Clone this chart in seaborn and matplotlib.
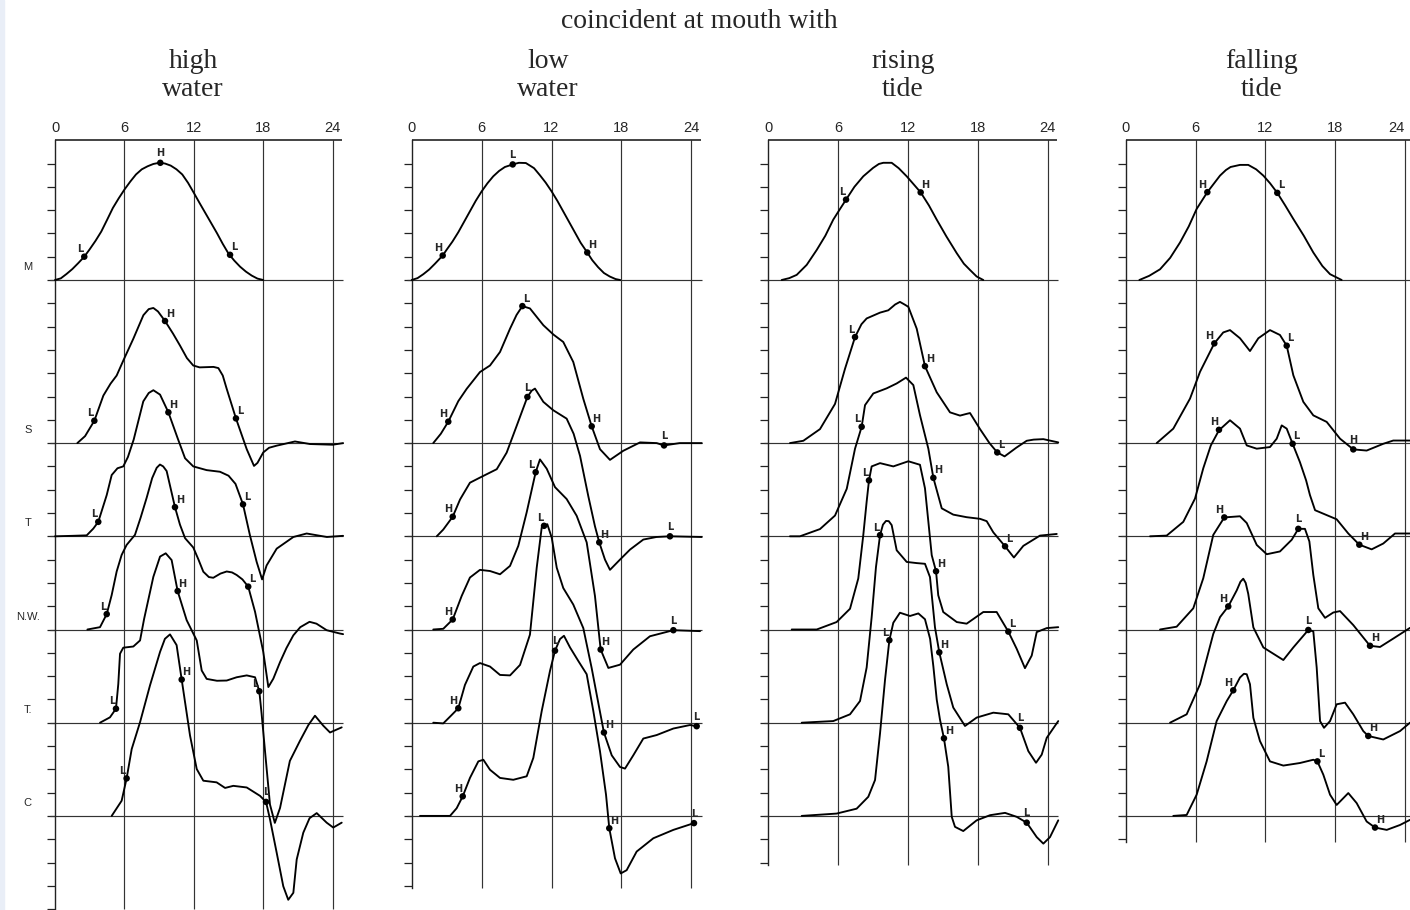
import numpy as np
import matplotlib
matplotlib.use("Agg")
import matplotlib.pyplot as plt
from matplotlib.patches import Rectangle
import seaborn as sns

# ---------------- text ----------------
SUPTITLE = "coincident at mouth with"
PANEL_TITLES = ["high\nwater", "low\nwater", "rising\ntide", "falling\ntide"]
ROW_NAMES = ["M", "S", "T", "N.W.", "T.", "C"]
X_TICKS = [0, 6, 12, 18, 24]

# ---------------- data: (hour, level above own baseline) ----------------
# panel 1 : high water
HW_M = [(0,0),(0.5,0.07),(1,0.26),(1.5,0.47),(2,0.72),(2.53,1.0),(3,1.32),(3.5,1.68),(4,2.08),(4.5,2.58),(5,3.09),(5.5,3.5),(6,3.88),(6.5,4.22),(7,4.53),(7.5,4.75),(8,4.88),(8.5,4.98),(9,5.03),(9.5,5.0),(10,4.91),(10.5,4.75),(11,4.53),(11.5,4.17),(12,3.74),(12.5,3.3),(13,2.87),(13.5,2.44),(14,2.01),(14.5,1.55),(15,1.13),(15.5,0.83),(16,0.57),(16.5,0.36),(17,0.19),(17.5,0.06),(18,0)]
HW_S = [(1.93,0),(2.6,0.3),(3.4,0.96),(4.18,2.04),(4.8,2.55),(5.33,2.9),(5.91,3.55),(6.77,4.48),(7.64,5.49),(8.1,5.75),(8.5,5.8),(8.9,5.65),(9.51,5.24),(10.2,4.7),(10.8,4.19),(11.4,3.65),(11.95,3.33),(12.5,3.25),(13.11,3.26),(13.7,3.27),(14.12,3.22),(14.5,2.9),(14.84,2.33),(15.64,1.06),(16.57,-0.26),(17.2,-0.98),(17.5,-0.85),(18.0,-0.4),(18.5,-0.2),(19.16,-0.11),(20.74,0.07),(22.04,-0.04),(24.0,-0.07),(24.9,0)]
HW_T = [(0,0),(1.5,0.02),(2.74,0.04),(3.31,0.33),(3.74,0.62),(4.47,1.77),(4.9,2.63),(5.4,2.92),(5.9,3.0),(6.3,3.4),(6.8,4.15),(7.63,5.79),(8.1,6.15),(8.5,6.27),(9.08,6.08),(9.8,5.32),(10.6,4.21),(11.24,3.35),(11.95,3.0),(13.11,2.84),(14.26,2.77),(15.0,2.6),(15.6,2.25),(16.25,1.37),(16.85,0.04),(17.43,-1.1),(17.9,-1.85),(18.29,-1.25),(19.16,-0.53),(20.6,-0.03),(21.75,0.12),(23.5,-0.03),(24.9,0.02)]
HW_NW = [(2.8,0),(3.89,0.1),(4.47,0.66),(4.9,1.48),(5.33,2.49),(5.76,3.2),(6.19,3.63),(6.91,4.06),(7.4,4.8),(7.92,5.65),(8.4,6.5),(8.79,6.94),(9.07,7.08),(9.35,7.0),(9.65,6.8),(10.37,5.25),(10.8,4.5),(11.24,3.92),(11.95,3.52),(12.4,3.0),(12.82,2.48),(13.3,2.25),(13.68,2.22),(14.3,2.4),(14.84,2.49),(15.3,2.45),(15.7,2.34),(16.2,2.15),(16.7,1.84),(17.29,0.76),(18.0,-0.96),(18.44,-2.47),(18.87,-2.11),(19.45,-1.4),(20.0,-0.8),(20.6,-0.25),(21.2,0.1),(22.0,0.33),(22.6,0.25),(23.48,-0.03),(24.6,-0.17),(24.9,-0.2)]
HW_TD = [(3.89,0),(4.75,0.23),(5.27,0.6),(5.47,1.66),(5.62,2.96),(5.9,3.22),(6.77,3.27),(7.35,3.53),(7.7,4.45),(8.5,6.26),(9.08,7.13),(9.57,7.27),(10.08,6.98),(10.6,5.65),(11.38,4.4),(12.25,3.53),(12.68,2.24),(13.11,1.88),(14.0,1.8),(14.84,1.81),(15.7,1.95),(16.57,2.03),(17.29,1.95),(17.66,1.35),(17.86,0.37),(18.15,-1.21),(18.58,-3.51),(19.0,-4.3),(19.45,-3.66),(20.3,-1.64),(21.17,-0.78),(21.9,-0.1),(22.47,0.3),(23.19,-0.13),(23.77,-0.42),(24.78,-0.2)]
HW_C = [(4.9,0),(5.76,0.65),(6.19,1.61),(6.63,2.87),(7.35,4.02),(8.21,5.6),(9.08,7.04),(9.5,7.6),(9.94,7.79),(10.51,7.33),(10.95,5.85),(11.67,3.45),(12.25,2.01),(12.82,1.51),(13.97,1.44),(14.7,1.2),(15.41,1.29),(16.57,1.22),(17.72,0.86),(18.24,0.6),(18.58,-0.14),(19.16,-1.58),(19.73,-3.02),(20.16,-3.6),(20.6,-3.3),(20.89,-1.87),(21.46,-0.72),(22.0,-0.1),(22.62,0.12),(23.48,-0.29),(24.05,-0.5),(24.78,-0.29)]

# panel 2 : low water
LW_M = [(0,0),(0.5,0.08),(1,0.25),(1.5,0.45),(2,0.7),(2.66,1.05),(3,1.3),(3.5,1.65),(4,2.05),(4.5,2.5),(5,2.95),(5.5,3.4),(6,3.8),(6.5,4.15),(7,4.45),(7.5,4.68),(8,4.85),(8.67,4.96),(9.2,5.03),(9.8,5.02),(10.5,4.8),(11,4.5),(11.5,4.18),(12,3.81),(12.5,3.4),(13,2.95),(13.5,2.5),(14,2.05),(14.5,1.6),(15.07,1.18),(15.5,0.85),(16,0.55),(16.5,0.3),(17,0.15),(17.5,0.04),(17.9,0)]
LW_S = [(1.85,0),(2.5,0.4),(3.14,0.92),(4.0,1.8),(4.72,2.33),(5.86,3.05),(6.72,3.33),(7.58,3.91),(8.44,4.91),(9.0,5.5),(9.5,5.88),(10.15,5.78),(11.3,5.06),(12.16,4.66),(13.01,4.34),(13.87,3.48),(14.73,1.9),(15.45,0.72),(16.16,-0.26),(17.02,-0.72),(18.16,-0.33),(19.6,0.03),(21.03,0),(21.66,-0.1),(23,0),(24.9,0)]
LW_T = [(2.15,0),(2.71,0.29),(3.52,0.84),(4.15,1.58),(5.0,2.3),(5.86,2.52),(7.3,2.88),(8.15,3.59),(9.01,4.74),(9.93,5.98),(10.3,6.25),(10.58,6.34),(11.3,5.77),(12.15,5.41),(13.3,5.05),(13.9,4.4),(14.45,3.45),(15.16,1.72),(15.73,0.43),(16.1,-0.26),(16.59,-1.0),(17.02,-1.44),(17.88,-1.0),(18.74,-0.57),(19.88,-0.14),(21.0,-0.03),(22.17,0),(24.9,-0.03)]
LW_NW = [(1.85,0),(2.71,0.03),(3.52,0.43),(4.29,1.44),(5.0,2.23),(5.86,2.56),(6.72,2.51),(7.58,2.37),(8.44,2.73),(9.15,3.59),(9.87,5.03),(10.64,6.75),(11.01,7.3),(11.59,6.9),(12.3,6.11),(13.3,5.6),(14.16,4.88),(15.02,3.74),(15.73,1.44),(16.22,-0.86),(16.88,-1.65),(17.88,-1.51),(19.02,-0.86),(20.45,-0.29),(22.46,-0.03),(24.75,-0.07)]
LW_TD = [(1.85,0),(2.71,-0.03),(3.43,0.33),(4.0,0.62),(4.57,1.62),(5.29,2.41),(5.86,2.56),(6.72,2.41),(7.58,2.05),(8.44,2.03),(9.3,2.48),(10.15,3.78),(10.73,6.65),(11.16,8.38),(11.36,8.45),(11.64,8.52),(12.02,7.94),(12.45,6.65),(13.01,5.78),(13.87,5.07),(14.73,4.06),(15.45,2.34),(16.16,0.47),(16.5,-0.42),(17.17,-1.4),(17.88,-1.9),(18.31,-1.97),(19.02,-1.4),(19.88,-0.68),(21.03,-0.53),(22.46,-0.25),(23.89,-0.1),(24.46,-0.15)]
LW_C = [(0.71,0),(3.29,0),(3.86,0.33),(4.38,0.84),(5.0,1.63),(5.72,2.34),(6.15,2.41),(6.72,1.98),(7.58,1.63),(8.72,1.55),(9.87,1.7),(10.44,2.49),(11.16,4.5),(11.87,6.22),(12.3,7.09),(12.73,7.59),(13.07,7.73),(13.59,7.23),(14.3,6.65),(15.02,6.08),(15.59,4.5),(16.16,2.78),(16.68,0.91),(16.96,-0.53),(17.45,-1.82),(17.94,-2.47),(18.45,-2.33),(19.31,-1.53),(20.74,-0.96),(22.46,-0.6),(24.23,-0.31)]

# panel 3 : rising tide
RT_M = [(1.15,0),(1.8,0.08),(2.44,0.22),(3.3,0.65),(4.16,1.29),(4.9,1.9),(5.58,2.59),(6.1,3.0),(6.68,3.45),(7.4,4.0),(8.16,4.45),(9.0,4.81),(9.5,4.98),(9.88,5.03),(10.6,5.03),(11.2,4.8),(11.89,4.45),(12.5,4.1),(13.09,3.76),(13.8,3.2),(14.47,2.59),(15.3,1.87),(16.19,1.15),(16.8,0.7),(17.33,0.43),(17.9,0.15),(18.47,0)]
RT_S = [(1.86,0),(3.01,0.1),(4.44,0.6),(5.73,1.68),(6.59,3.19),(7.45,4.55),(8.0,5.1),(8.45,5.35),(9.6,5.6),(10.31,5.7),(10.9,5.95),(11.31,6.06),(11.7,5.95),(12.03,5.85),(12.75,4.91),(13.46,3.3),(14.47,2.18),(15.61,1.32),(16.47,1.18),(17.0,1.25),(17.33,1.29),(18.19,0.6),(19.0,0.0),(19.67,-0.4),(20.3,-0.57),(21.3,-0.2),(22.2,0.1),(22.8,0.15),(23.63,0.17),(24.91,0.03)]
RT_T = [(1.86,0),(2.72,0),(4.44,0.31),(5.73,0.89),(6.74,2.04),(7.45,3.76),(8.02,4.7),(8.31,5.63),(9.02,6.13),(10.17,6.35),(11.03,6.56),(11.83,6.81),(12.46,6.49),(13.03,5.2),(13.75,3.76),(14.18,2.51),(14.9,1.2),(15.89,0.93),(17.04,0.82),(18.19,0.75),(18.76,0.65),(19.33,0.17),(20.34,-0.43),(21.1,-0.91),(21.91,-0.41),(23.34,0.03),(24.78,0.1)]
RT_NW = [(2.01,0),(4.16,0),(5.87,0.32),(7.02,0.89),(7.73,2.19),(8.16,4.05),(8.45,5.49),(8.65,6.4),(8.88,7.0),(9.6,7.14),(10.74,7.0),(12.03,7.22),(13.03,7.07),(13.46,6.06),(13.75,4.63),(14.04,3.19),(14.41,2.5),(14.6,1.47),(15.03,0.75),(16.19,0.32),(17.04,0.25),(18.47,0.75),(19.62,0.75),(20.62,-0.09),(21.34,-0.83),(22.05,-1.66),(22.63,-1.12),(23.06,-0.11),(23.92,0.06),(24.91,0.1)]
RT_TD = [(2.87,0),(5.58,0.07),(7.02,0.36),(7.88,0.93),(8.45,2.37),(8.88,4.53),(9.25,6.68),(9.6,8.05),(9.85,8.5),(10.11,8.66),(10.35,8.65),(10.6,8.48),(11.03,7.4),(11.89,6.9),(12.75,6.85),(13.46,6.82),(13.89,6.25),(14.32,4.09),(14.69,3.02),(15.33,1.65),(15.89,0.65),(16.9,-0.14),(17.9,0.22),(19.33,0.43),(20.62,0.36),(21.62,-0.22),(22.34,-1.22),(23.0,-1.72),(23.49,-1.37),(23.92,-0.65),(24.91,0.07)]
RT_C = [(2.87,0),(5.87,0.1),(7.59,0.31),(8.59,0.82),(9.17,1.54),(9.6,3.55),(10.03,5.85),(10.4,7.54),(10.74,8.29),(11.31,8.72),(12.17,8.58),(12.89,8.69),(13.46,8.44),(13.9,7.6),(14.18,6.42),(14.47,4.99),(14.75,4.13),(15.09,3.33),(15.46,2.11),(15.76,-0.04),(16.04,-0.47),(16.75,-0.65),(17.9,-0.19),(19.05,0.03),(20.34,0.13),(21.34,-0.04),(22.2,-0.29),(23.06,-0.91),(23.63,-1.19),(24.2,-0.91),(24.91,-0.19)]

# panel 4 : falling tide
FT_M = [(1.15,0),(2.0,0.18),(2.93,0.46),(3.8,0.95),(4.65,1.61),(5.4,2.3),(6.08,3.05),(7.0,3.77),(8.09,4.48),(8.6,4.72),(9.0,4.85),(9.81,4.94),(10.52,4.94),(11.2,4.75),(11.82,4.48),(12.4,4.15),(13.02,3.74),(13.7,3.2),(14.4,2.62),(15.3,1.9),(16.12,1.18),(16.9,0.6),(17.56,0.25),(18.56,0)]
FT_S = [(2.64,0),(4.07,0.62),(5.51,1.91),(6.37,3.06),(7.6,4.28),(8.37,4.75),(8.95,4.85),(9.81,4.5),(10.67,3.95),(11.39,4.5),(12.39,4.85),(13.25,4.64),(13.83,4.18),(14.4,2.91),(15.26,1.77),(16.12,1.19),(17.27,0.91),(18.42,0.19),(19.56,-0.27),(20.71,-0.32),(22.14,-0.03),(23.0,0.11),(24.44,0.11)]
FT_T = [(2.07,0),(3.5,0.03),(4.93,0.62),(5.94,1.62),(6.65,2.92),(7.3,3.9),(8.0,4.55),(8.95,4.98),(9.81,4.62),(10.39,3.9),(11.25,3.76),(12.39,3.83),(12.97,4.19),(13.4,4.76),(13.83,4.62),(14.34,3.97),(14.97,3.18),(15.5,2.4),(15.83,1.77),(16.27,1.12),(17.27,0.91),(18.13,0.73),(19.13,0.12),(20.08,-0.36),(21.14,-0.56),(22.14,-0.31),(23.15,0.12),(24.44,0.12)]
FT_NW = [(2.93,0),(4.36,0.12),(5.79,0.91),(6.65,2.2),(7.51,4.06),(8.46,4.81),(9.81,4.86),(10.39,4.57),(11.25,3.63),(12.11,3.23),(13.25,3.35),(14.26,3.85),(14.83,4.32),(15.4,4.32),(15.78,3.78),(16.12,2.34),(16.55,0.91),(17.13,0.5),(17.84,0.73),(18.42,0.79),(19.56,0.19),(21.0,-0.7),(21.86,-0.75),(23.0,-0.39),(24.44,0.07)]
FT_TD = [(3.79,0),(5.22,0.36),(6.37,1.65),(7.51,3.81),(8.09,4.53),(8.8,4.99),(9.53,5.68),(9.85,6.05),(10.09,6.18),(10.3,6.0),(10.52,5.53),(10.96,4.09),(11.82,3.23),(13.54,2.69),(14.4,3.23),(15.69,3.98),(16.12,3.92),(16.41,2.37),(16.7,0.07),(17.04,-0.22),(17.56,0.07),(18.13,0.79),(18.85,0.86),(19.56,0.36),(20.42,-0.36),(20.85,-0.57),(22.14,-0.72),(23.58,-0.36),(24.44,0)]
FT_C = [(4.07,0),(5.22,0.04),(6.08,0.91),(6.94,2.34),(7.8,4.07),(8.67,4.93),(9.23,5.39),(9.81,5.94),(10.15,6.1),(10.39,6.08),(10.67,5.65),(10.96,4.21),(11.53,3.21),(12.39,2.34),(13.54,2.16),(14.97,2.27),(16.12,2.41),(16.47,2.34),(16.98,1.77),(17.56,0.91),(18.13,0.47),(18.7,0.76),(19.13,0.98),(19.85,0.55),(20.71,-0.24),(21.43,-0.5),(22.44,-0.6),(23.58,-0.39),(24.44,-0.17)]

# marked points: (hour, level, letter, label side)
HW_M_PTS = [(2.53,1.0,"L","l"),(9.1,5.03,"H","c"),(15.13,1.08,"L","r")]
HW_S_PTS = [(3.4,0.96,"L","l"),(9.51,5.24,"H","r"),(15.64,1.06,"L","r")]
HW_T_PTS = [(3.74,0.62,"L","l"),(9.8,5.32,"H","r"),(16.25,1.37,"L","r")]
HW_NW_PTS = [(4.47,0.66,"L","l"),(10.37,5.25,"H","r"),(16.7,1.84,"L","r")]
HW_TD_PTS = [(5.27,0.6,"L","l"),(10.6,5.65,"H","r"),(17.66,1.35,"L","l")]
HW_C_PTS = [(6.19,1.61,"L","l"),(10.95,5.85,"H","r"),(18.24,0.6,"L","c")]

LW_M_PTS = [(2.66,1.05,"H","l"),(8.67,4.96,"L","c"),(15.07,1.18,"H","r")]
LW_S_PTS = [(3.14,0.92,"H","l"),(9.5,5.88,"L","r"),(15.45,0.72,"H","r"),(21.66,-0.1,"L","c")]
LW_T_PTS = [(3.52,0.84,"H","l"),(9.93,5.98,"L","c"),(16.1,-0.26,"H","r"),(22.17,0,"L","c")]
LW_NW_PTS = [(3.52,0.43,"H","l"),(10.64,6.75,"L","l"),(16.22,-0.86,"H","r"),(22.46,-0.03,"L","c")]
LW_TD_PTS = [(4.0,0.62,"H","l"),(11.36,8.45,"L","l"),(16.5,-0.42,"H","r"),(24.46,-0.15,"L","c")]
LW_C_PTS = [(4.38,0.84,"H","l"),(12.3,7.09,"L","c"),(16.96,-0.53,"H","r"),(24.23,-0.31,"L","c")]

RT_M_PTS = [(6.68,3.45,"L","l"),(13.09,3.76,"H","r")]
RT_S_PTS = [(7.45,4.55,"L","l"),(13.46,3.3,"H","r"),(19.67,-0.4,"L","r")]
RT_T_PTS = [(8.02,4.7,"L","l"),(14.18,2.51,"H","r"),(20.34,-0.43,"L","r")]
RT_NW_PTS = [(8.65,6.4,"L","l"),(14.41,2.5,"H","r"),(20.62,-0.09,"L","r")]
RT_TD_PTS = [(9.6,8.05,"L","l"),(14.69,3.02,"H","r"),(21.62,-0.22,"L","c")]
RT_C_PTS = [(10.4,7.54,"L","l"),(15.09,3.33,"H","r"),(22.2,-0.29,"L","c")]

FT_M_PTS = [(7.0,3.77,"H","l"),(13.02,3.74,"L","r")]
FT_S_PTS = [(7.6,4.28,"H","l"),(13.83,4.18,"L","r"),(19.56,-0.27,"H","c")]
FT_T_PTS = [(8.0,4.57,"H","l"),(14.34,3.97,"L","r"),(20.08,-0.36,"H","r")]
FT_NW_PTS = [(8.46,4.81,"H","l"),(14.83,4.32,"L","c"),(21.0,-0.7,"H","r")]
FT_TD_PTS = [(8.8,4.99,"H","l"),(15.69,3.98,"L","c"),(20.85,-0.57,"H","r")]
FT_C_PTS = [(9.23,5.39,"H","l"),(16.47,2.34,"L","r"),(21.43,-0.5,"H","r")]

PANEL_CURVES = [
    [HW_M, HW_S, HW_T, HW_NW, HW_TD, HW_C],
    [LW_M, LW_S, LW_T, LW_NW, LW_TD, LW_C],
    [RT_M, RT_S, RT_T, RT_NW, RT_TD, RT_C],
    [FT_M, FT_S, FT_T, FT_NW, FT_TD, FT_C],
]
PANEL_POINTS = [
    [HW_M_PTS, HW_S_PTS, HW_T_PTS, HW_NW_PTS, HW_TD_PTS, HW_C_PTS],
    [LW_M_PTS, LW_S_PTS, LW_T_PTS, LW_NW_PTS, LW_TD_PTS, LW_C_PTS],
    [RT_M_PTS, RT_S_PTS, RT_T_PTS, RT_NW_PTS, RT_TD_PTS, RT_C_PTS],
    [FT_M_PTS, FT_S_PTS, FT_T_PTS, FT_NW_PTS, FT_TD_PTS, FT_C_PTS],
]

# ---------------- layout ----------------
ROW_BASE = [0, -7, -11, -15, -19, -23]
W, H = 1410, 910
UNIT = 23.3           # px per vertical unit
Y0_PX = 280           # pixel row of the M baseline
YTOP = 6
YBOT = -(H - Y0_PX) / UNIT
PANEL_X0 = [55, 411.7, 768.3, 1126]
PANEL_S = [11.57, 11.65, 11.64, 11.62]
PANEL_BOTTOM = [-27.0, -26.1, -25.1, -24.1]
XMIN, XMAX = -0.6, 25.3
TITLE_X = [193, 548, 903, 1262]

sns.set_theme(style="white")
plt.rcParams["font.family"] = ["DejaVu Sans"]

fig = plt.figure(figsize=(W / 100, H / 100), dpi=100)
fig.patch.set_facecolor("white")
fig.patches.append(Rectangle((0, 0), 4 / W, 1, transform=fig.transFigure,
                             color="#e9eef7", zorder=0))

ax_h = (H - (Y0_PX - YTOP * UNIT)) / H
label_off = {"l": ((-0.6, 1.8), "right"), "r": ((0.6, 1.8), "left"), "c": ((0, 3.2), "center")}

for p in range(4):
    x0, s = PANEL_X0[p], PANEL_S[p]
    ax = fig.add_axes([(x0 + XMIN * s) / W, 0, (XMAX - XMIN) * s / W, ax_h])
    ax.set_xlim(XMIN, XMAX)
    ax.set_ylim(YBOT, YTOP)
    ax.set_facecolor("none")
    bot = PANEL_BOTTOM[p]

    for sp in ["top", "right", "bottom"]:
        ax.spines[sp].set_visible(False)
    ax.spines["left"].set_position(("data", 0))
    ax.spines["left"].set_bounds(bot, YTOP)
    ax.spines["left"].set_color("#222222")
    ax.spines["left"].set_linewidth(1.0)
    ax.yaxis.set_ticks_position("left")
    ax.set_yticks(np.arange(YTOP - 1, bot - 0.01, -1))
    ax.tick_params(axis="y", direction="out", length=6, width=0.9, color="#222222",
                   labelleft=False)
    ax.xaxis.set_ticks_position("top")
    ax.set_xticks(X_TICKS)
    ax.set_xticklabels([str(t) for t in X_TICKS], fontsize=10.5, family="Liberation Sans")
    ax.tick_params(axis="x", length=0, pad=3.5)
    if p == 3:
        last = ax.get_xticklabels()[-1]
        last.set_horizontalalignment("right")
        last.set_x(24.55)
    ax.grid(False)

    # frame lines
    ax.hlines(YTOP, 0, 24.8, color="#111111", lw=1.1, clip_on=False, zorder=2)
    ax.vlines(X_TICKS[1:], bot, YTOP, color="#333333", lw=0.85, zorder=1)
    ax.hlines(ROW_BASE, -0.4, 24.9, color="#333333", lw=0.85, zorder=1)

    for r in range(6):
        base = ROW_BASE[r]
        cx = np.array([c[0] for c in PANEL_CURVES[p][r]])
        cy = np.array([c[1] for c in PANEL_CURVES[p][r]]) + base
        sns.lineplot(x=cx, y=cy, ax=ax, color="black", linewidth=1.35,
                     estimator=None, sort=False, legend=False, zorder=3)
        pts = PANEL_POINTS[p][r]
        px = np.array([q[0] for q in pts])
        py = np.array([q[1] for q in pts]) + base
        sns.scatterplot(x=px, y=py, ax=ax, color="black", s=22, edgecolor="none",
                        legend=False, zorder=4)
        for q in pts:
            off, ha = label_off[q[3]]
            ax.annotate(q[2], (q[0], q[1] + base), xytext=off, textcoords="offset points",
                        ha=ha, va="bottom", fontsize=7, fontweight="bold",
                        family="DejaVu Sans", zorder=5)
        if p == 0:
            ax.text(-2.35, base + 0.55, ROW_NAMES[r], ha="center", va="center",
                    fontsize=8, family="Liberation Sans", clip_on=False)
    ax.set_xlabel("")
    ax.set_ylabel("")

    # panel titles
    for k, line in enumerate(PANEL_TITLES[p].split("\n")):
        fig.text(TITLE_X[p] / W, 1 - (62 + 28 * k) / H, line, ha="center", va="center",
                 fontsize=20, family="Liberation Serif")

fig.text(699 / W, 1 - 22 / H, SUPTITLE, ha="center", va="center",
         fontsize=20, family="Liberation Serif")

fig.savefig("out.png", dpi=100, facecolor="white")
